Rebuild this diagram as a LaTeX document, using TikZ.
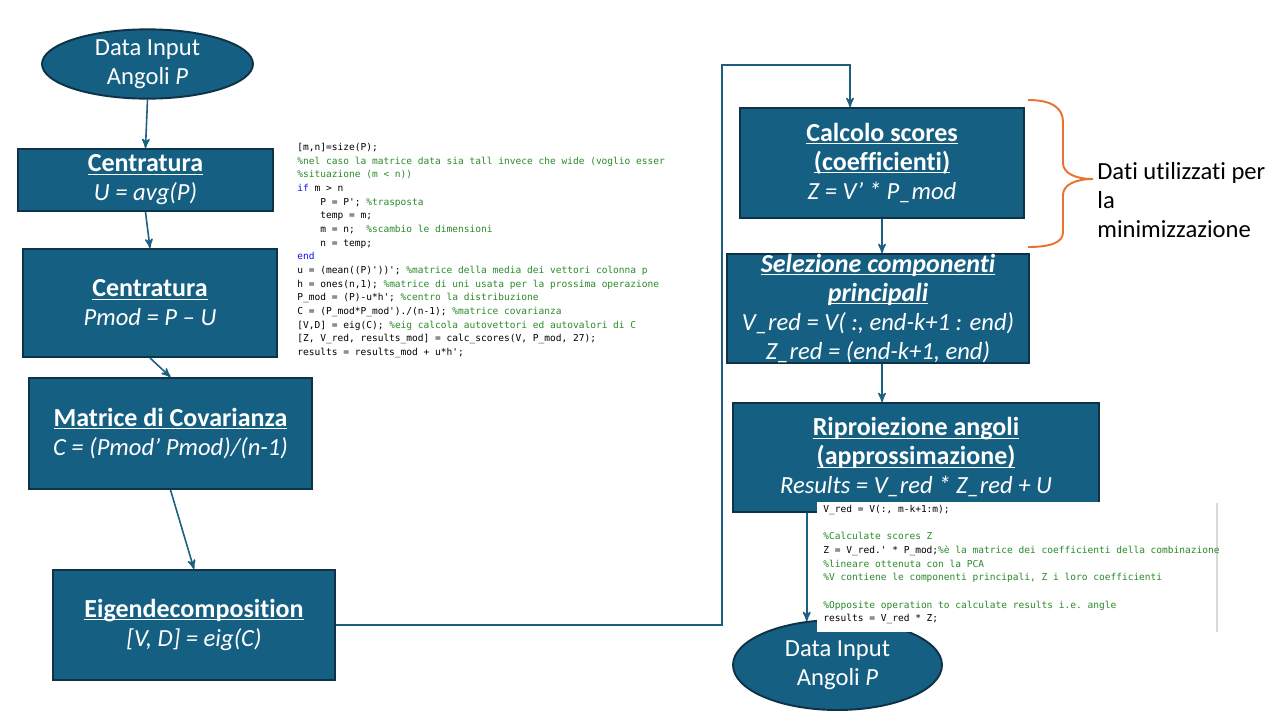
\documentclass[tikz,border=0pt]{standalone}
\usepackage{fontspec}
\setmainfont{Carlito}[Ligatures={TeX,NoCommon}]
\setmonofont{DejaVu Sans Mono}
\usepackage{xcolor}
\usepackage{tikz}
\usetikzlibrary{shapes.geometric, positioning, arrows}

\definecolor{boxblue}{HTML}{156082}
\definecolor{boxline}{HTML}{0E3349}
\definecolor{linkblue}{HTML}{1D5F80}
\definecolor{braceorange}{HTML}{E97132}
\definecolor{codegreen}{HTML}{2A8A2A}
\definecolor{codeblue}{HTML}{1010F0}
\definecolor{codegrey}{HTML}{D9D9D9}

\newsavebox{\hdbox}
\newcommand{\hd}[1]{{\bfseries\fontsize{14.8}{16.5}\selectfont\sbox{\hdbox}{#1}\rlap{\rule[-1.6pt]{\wd\hdbox}{0.7pt}}\usebox{\hdbox}}}
\newcommand{\comm}[1]{\textcolor{codegreen}{#1}}
\newcommand{\kw}[1]{\textcolor{codeblue}{#1}}
\newcommand{\ind}{\phantom{xxxx}}

\begin{document}
\begin{tikzpicture}[x=0.02cm, y=-0.02cm, ->, >=stealth',
  link/.style={draw=linkblue, line width=0.9pt},
  stepbox/.style={rectangle, draw=boxline, fill=boxblue, line width=1.1pt, text=white, align=center, inner sep=0pt, font=\fontsize{14}{16.5}\selectfont},
  io/.style={ellipse, draw=boxline, fill=boxblue, line width=1.1pt, text=white, align=center, inner sep=0pt, font=\fontsize{14}{16.5}\selectfont},
  code/.style={anchor=north west, align=left, inner sep=0pt, font=\ttfamily\fontsize{5.43}{7.77}\selectfont}]
\useasboundingbox (0,0) rectangle (1280,720);

% left column
\node[io, minimum width=4.22cm, minimum height=1.38cm] at (147.5,64) (in1) {Data Input\\Angoli \textit{P}};
\node[stepbox, minimum width=5.1cm, minimum height=1.24cm] at (145.5,180) (cent1) {\hd{Centratura}\\\textit{U = avg(P)}};
\node[stepbox, minimum width=5.08cm, minimum height=2.16cm] at (150,303) (cent2) {\hd{Centratura}\\\textit{Pmod = P – U}};
\node[stepbox, minimum width=5.66cm, minimum height=2.22cm] at (170.5,433.5) (cov) {\hd{Matrice di Covarianza}\\\textit{C = (Pmod’ Pmod)/(n-1)}};
\node[stepbox, minimum width=5.64cm, minimum height=2.2cm] at (194,625) (eig) {\hd{Eigendecomposition}\\\textit{[V, D] = eig(C)}};

% right column
\node[stepbox, minimum width=5.68cm, minimum height=2.2cm] at (882,163) (scores) {\hd{Calcolo scores}\\\hd{(coefficienti)}\\\textit{Z = V’ * P\_mod}};
\node[stepbox, minimum width=6.04cm, minimum height=2.18cm] at (878,308.5) (sel) {\hd{\textit{Selezione componenti}}\\\hd{\textit{principali}}\\\textit{V\_red = V( :, end-k+1 : end)}\\\textit{Z\_red = (end-k+1, end)}};
\node[stepbox, minimum width=7.32cm, minimum height=2.18cm] at (916,457.5) (repr) {\hd{Riproiezione angoli}\\\hd{(approssimazione)}\\\textit{Results = V\_red * Z\_red + U}};
\node[io, minimum width=4.18cm, minimum height=1.8cm] at (837.5,665) (out) {Data Input\\Angoli \textit{P}};

% connectors
\draw[link] (in1.south) -- (cent1.north);
\draw[link] (cent1.south) -- (cent2.north);
\draw[link] (cent2.south) -- (cov.north);
\draw[link] (cov.south) -- (eig.north);
\coordinate (up) at (722,65);
\draw[link] (eig.east) -| (up) -| ([xshift=-0.64cm]scores.north);
\draw[link] (scores.south) -- (scores.south |- sel.north);
\draw[link] (scores.south |- sel.south) -- (scores.south |- repr.north);
\draw[link] (out.125 |- repr.south) -- (out.125);

% brace and note
\draw[-, braceorange, line width=1.1pt] (1028,100) .. controls (1052,100) and (1063,108) .. (1063,122) -- (1063,163)
  .. controls (1063,173) and (1075,179) .. (1093,179) .. controls (1075,179) and (1063,185) .. (1063,195) -- (1063,232)
  .. controls (1063,242) and (1052,247) .. (1028,247);
\node[anchor=west, align=left, inner sep=0pt, font=\fontsize{14}{16.3}\selectfont] at (1097,200) (note) {Dati utilizzati per\\la\\minimizzazione};

% matlab code
\node[code] at (297,143) (matlab1) {[m,n]=size(P);\\
\comm{\%nel caso la matrice data sia tall invece che wide (voglio esser}\\
\comm{\%situazione (m < n))}\\
\kw{if} m > n\\
\ind P = P'; \comm{\%trasposta}\\
\ind temp = m;\\
\ind m = n;\ \ \comm{\%scambio le dimensioni}\\
\ind n = temp;\\
\kw{end}\\
u = (mean((P)'))'; \comm{\%matrice della media dei vettori colonna p}\\
h = ones(n,1); \comm{\%matrice di uni usata per la prossima operazione}\\
P\_mod = (P)-u*h'; \comm{\%centro la distribuzione}\\
C = (P\_mod*P\_mod')./(n-1); \comm{\%matrice covarianza}\\
{}[V,D] = eig(C); \comm{\%eig calcola autovettori ed autovalori di C}\\
{}[Z, V\_red, results\_mod] = calc\_scores(V, P\_mod, 27);\\
results = results\_mod + u*h';};

\fill[white] (817,502) rectangle (1217,632);
\draw[-, codegrey, line width=1pt] (1217,503) -- (1217,632);
\node[code] at (823,505) (matlab2) {V\_red = V(:, m-k+1:m);\\
\mbox{}\\
\comm{\%Calculate scores Z}\\
Z = V\_red.' * P\_mod;\comm{\%è la matrice dei coefficienti della combinazione}\\
\comm{\%lineare ottenuta con la PCA}\\
\comm{\%V contiene le componenti principali, Z i loro coefficienti}\\
\mbox{}\\
\comm{\%Opposite operation to calculate results i.e. angle}\\
results = V\_red * Z;};
\end{tikzpicture}
\end{document}
